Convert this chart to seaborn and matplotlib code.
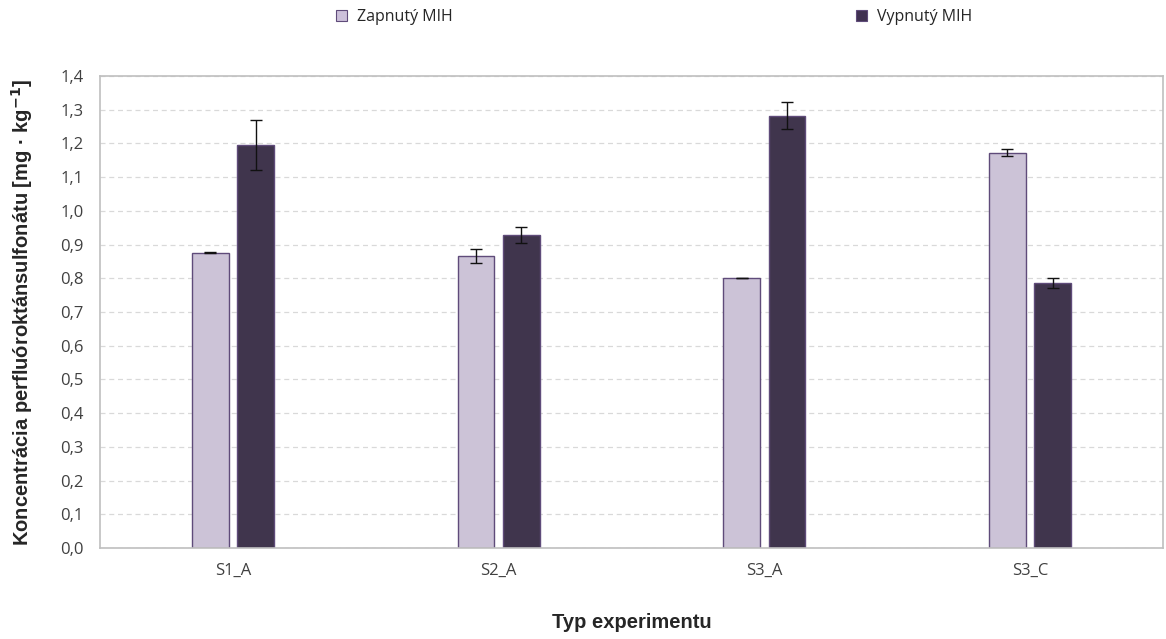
import numpy as np
import pandas as pd
import seaborn as sns
import matplotlib
matplotlib.use("Agg")
import matplotlib.pyplot as plt
from matplotlib.patches import Patch
from matplotlib.ticker import FuncFormatter

# data
categories = ["S1_A", "S2_A", "S3_A", "S3_C"]
series = ["Zapnutý MIH", "Vypnutý MIH"]
on_values = [0.876, 0.866, 0.801, 1.172]
on_errors = [0.002, 0.021, 0.0, 0.010]
off_values = [1.196, 0.929, 1.282, 0.786]
off_errors = [0.074, 0.023, 0.040, 0.016]

df = pd.DataFrame({
  "exp": categories * 2,
  "mih": [series[0]] * 4 + [series[1]] * 4,
  "val": on_values + off_values,
  "err": on_errors + off_errors,
})

sns.set_theme(style="white")
plt.rcParams['font.family'] = ['Open Sans', 'DejaVu Sans']

colors = ["#CCC0DA", "#403151"]
fig = plt.figure(figsize=(11.66, 6.39), dpi=100)
ax = fig.add_axes([100/1166, 1 - 548/639, 1063/1166, 472/639])

sns.barplot(data=df, x="exp", y="val", hue="mih", order=categories, hue_order=series,
            palette=colors, width=0.341, gap=0.19, edgecolor="#5F4B7A", linewidth=1.0,
            errorbar=None, legend=False, ax=ax)

# error bars at the bar centres
for bars, errs, vals in zip(ax.containers, [on_errors, off_errors], [on_values, off_values]):
  xs = [b.get_x() + b.get_width() / 2 for b in bars]
  ax.errorbar(xs, vals, yerr=errs, fmt="none", ecolor="#111111", elinewidth=1.0,
              capsize=4, capthick=1.0, zorder=5)

ax.set_ylim(0, 1.4)
ax.set_xlim(-0.5, 3.5)
ax.set_yticks(np.arange(0, 1.41, 0.1))
ax.yaxis.set_major_formatter(FuncFormatter(lambda v, p: f"{v:.1f}".replace(".", ",")))
ax.yaxis.grid(True, linestyle=(0, (4, 3)), color="#D9D9D9", linewidth=0.9)
ax.set_axisbelow(True)

ax.set_xticks([0.5, 1.5, 2.5], minor=True)
ax.tick_params(axis="x", which="major", length=0, labelsize=12, labelcolor="#404040", pad=11)
ax.tick_params(axis="x", which="minor", direction="in", length=5, color="#BFBFBF", width=1)
ax.tick_params(axis="y", length=0, labelsize=12, labelcolor="#404040", pad=12)
for s in ax.spines.values():
  s.set_color("#BFBFBF")
  s.set_linewidth(1.2)

ax.set_xlabel("Typ experimentu", fontsize=14.5, fontweight="bold", family="Liberation Sans",
              color="#262626", labelpad=24)
ax.set_ylabel("Koncentrácia perfluóroktánsulfonátu [mg · kg$^{\\mathbf{-1}}$]", fontsize=14.5,
              fontweight="bold", family="Liberation Sans", color="#262626", labelpad=18)

handles = [Patch(facecolor=c, edgecolor="#5F4B7A", linewidth=0.8) for c in colors]
fig.legend(handles, series, loc="center", bbox_to_anchor=(0.561, 1 - 17/639), ncol=2,
           frameon=False, fontsize=11.5, handlelength=0.7, handleheight=0.7,
           handletextpad=0.6, columnspacing=25.25, labelcolor="#262626")

fig.savefig("out.png", dpi=100)
